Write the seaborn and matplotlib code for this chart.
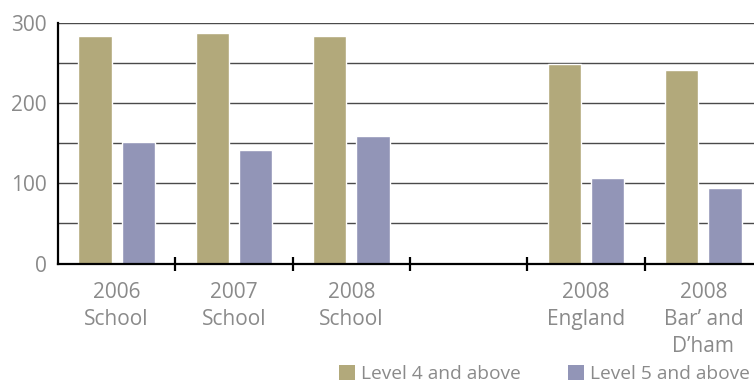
import matplotlib
matplotlib.use("Agg")
import matplotlib.pyplot as plt
import seaborn as sns
import pandas as pd
import numpy as np
from matplotlib.patches import Patch

categories = ["2006\nSchool", "2007\nSchool", "2008\nSchool", "", "2008\nEngland", "2008\nBar\u2019 and\nD\u2019ham"]
level4 = [283, 287, 283, np.nan, 249, 241]
level5 = [151, 141, 159, np.nan, 106, 94]
series = ["Level 4 and above", "Level 5 and above"]
colors = ["#b2a97b", "#9295b7"]
yticks = [0, 100, 200, 300]

df = pd.DataFrame({
    "cat": categories * 2,
    "value": level4 + level5,
    "series": [series[0]] * len(categories) + [series[1]] * len(categories),
})

sns.set_style("white")
plt.rcParams["font.family"] = ["Open Sans", "DejaVu Sans"]
txt = "#8a8a8a"

fig = plt.figure(figsize=(7.54, 3.83), dpi=100)
ax = fig.add_axes([58/754, (383-263.5)/383, (762-58)/754, (263.5-22.7)/383])

sns.barplot(data=df, x="cat", y="value", hue="series", palette=colors,
            order=categories, hue_order=series, width=0.74, gap=0.227,
            saturation=1, ax=ax, legend=False)

ax.set_xlim(-0.5, len(categories) - 0.5)
ax.set_ylim(0, 300)
ax.set_yticks(yticks)
ax.set_yticks([50, 150, 250], minor=True)
ax.set_yticklabels([str(v) for v in yticks])
ax.set_xticks(range(len(categories)))
ax.set_xticklabels(categories)
ax.set_xticks(np.arange(0.5, len(categories) - 0.5, 1), minor=True)
ax.set_xlabel("")
ax.set_ylabel("")

ax.set_axisbelow(True)
ax.grid(axis="y", which="both", color="#4a4a4a", linewidth=1.0)
ax.grid(axis="x", which="both", visible=False)

ax.tick_params(axis="y", which="both", length=0, labelsize=15, labelcolor=txt, pad=8)
ax.tick_params(axis="x", which="major", length=0, labelsize=15, labelcolor=txt, pad=13)
ax.tick_params(axis="x", which="minor", bottom=True, direction="inout", length=10,
               width=1.6, color="black")

for s in ["top", "right"]:
    ax.spines[s].set_visible(False)
for s in ["left", "bottom"]:
    ax.spines[s].set_color("black")
    ax.spines[s].set_linewidth(1.6)

for lab in ax.get_xticklabels():
    lab.set_linespacing(1.38)

handles = [Patch(facecolor=c, edgecolor="none") for c in colors]
fig.legend(handles, series, loc="center left", bbox_to_anchor=(339/754, 1 - 374/383),
           ncol=2, frameon=False, fontsize=13.8, labelcolor=txt,
           handlelength=0.85, handleheight=0.85, handletextpad=0.3, columnspacing=2.45,
           borderaxespad=0, borderpad=0)

fig.savefig("out.png", dpi=100)
